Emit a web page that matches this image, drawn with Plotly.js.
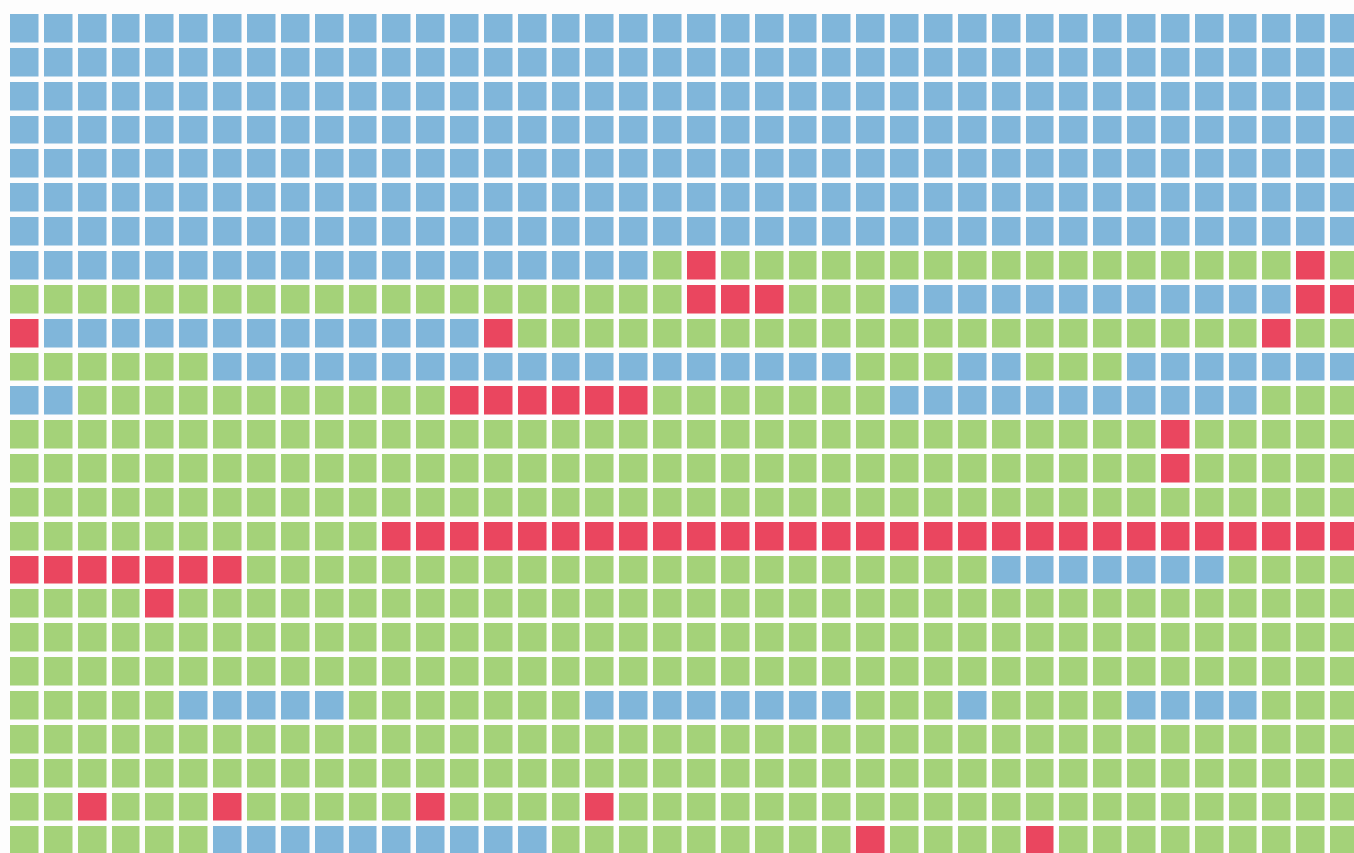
<!DOCTYPE html>
<html>
<head>
<meta charset="utf-8">
<script src="https://cdn.plot.ly/plotly-3.0.1.min.js"></script>
<style>
  html, body { margin: 0; padding: 0; background: #fbfbfb; overflow: hidden; }
  #chart { width: 1354px; height: 853px; }
</style>
</head>
<body>
<div id="chart"></div>
<script>
// Status categories and their colours
const statusCodes = ['B', 'G', 'R'];
const statusNames = ['blue', 'green', 'red'];
const statusColors = ['#80b6da', '#a4d279', '#ea465f'];

// Column / row indices
const columns = Array.from({length: 40}, (_, i) => i);
const rowIds = Array.from({length: 25}, (_, i) => i);

// Grid states, one string per row (spaces only for readability)
const gridRows = [
  "BBBBBBBBBB BBBBBBBBBB BBBBBBBBBB BBBBBBBBBB",
  "BBBBBBBBBB BBBBBBBBBB BBBBBBBBBB BBBBBBBBBB",
  "BBBBBBBBBB BBBBBBBBBB BBBBBBBBBB BBBBBBBBBB",
  "BBBBBBBBBB BBBBBBBBBB BBBBBBBBBB BBBBBBBBBB",
  "BBBBBBBBBB BBBBBBBBBB BBBBBBBBBB BBBBBBBBBB",
  "BBBBBBBBBB BBBBBBBBBB BBBBBBBBBB BBBBBBBBBB",
  "BBBBBBBBBB BBBBBBBBBB BBBBBBBBBB BBBBBBBBBB",
  "BBBBBBBBBB BBBBBBBBBG RGGGGGGGGG GGGGGGGGRG",
  "GGGGGGGGGG GGGGGGGGGG RRRGGGBBBB BBBBBBBBRR",
  "RBBBBBBBBB BBBBRGGGGG GGGGGGGGGG GGGGGGGRGG",
  "GGGGGGBBBB BBBBBBBBBB BBBBBGGGBB GGGBBBBBBB",
  "BBGGGGGGGG GGGRRRRRRG GGGGGGBBBB BBBBBBBGGG",
  "GGGGGGGGGG GGGGGGGGGG GGGGGGGGGG GGGGRGGGGG",
  "GGGGGGGGGG GGGGGGGGGG GGGGGGGGGG GGGGRGGGGG",
  "GGGGGGGGGG GGGGGGGGGG GGGGGGGGGG GGGGGGGGGG",
  "GGGGGGGGGG GRRRRRRRRR RRRRRRRRRR RRRRRRRRRR",
  "RRRRRRRGGG GGGGGGGGGG GGGGGGGGGB BBBBBBGGGG",
  "GGGGRGGGGG GGGGGGGGGG GGGGGGGGGG GGGGGGGGGG",
  "GGGGGGGGGG GGGGGGGGGG GGGGGGGGGG GGGGGGGGGG",
  "GGGGGGGGGG GGGGGGGGGG GGGGGGGGGG GGGGGGGGGG",
  "GGGGGBBBBB GGGGGGGBBB BBBBBGGGBG GGGBBBBGGG",
  "GGGGGGGGGG GGGGGGGGGG GGGGGGGGGG GGGGGGGGGG",
  "GGGGGGGGGG GGGGGGGGGG GGGGGGGGGG GGGGGGGGGG",
  "GGRGGGRGGG GGRGGGGRGG GGGGGGGGGG GGGGGGGGGG",
  "GGGGGGBBBB BBBBBBGGGG GGGGGRGGGG RGGGGGGGGG"
];

const z = gridRows.map(r => r.replace(/\s+/g, '').split('').map(ch => statusCodes.indexOf(ch)));
const text = gridRows.map(r => r.replace(/\s+/g, '').split('').map(ch => statusNames[statusCodes.indexOf(ch)]));

const colorscale = [
  [0, statusColors[0]], [1/3, statusColors[0]],
  [1/3, statusColors[1]], [2/3, statusColors[1]],
  [2/3, statusColors[2]], [1, statusColors[2]]
];

const pitch = 33.85;
const W = 1354, H = 853;
const gap = 5.5;
// first brick starts at (10, 14); plotly offsets bricks by floor(gap/2)
const x0 = -0.5 - (10 - Math.floor(gap / 2)) / pitch;
const y0 = -0.5 - (14 - Math.floor(gap / 2)) / pitch;

const trace = {
  type: 'heatmap',
  x: columns,
  y: rowIds,
  z: z,
  text: text,
  hoverinfo: 'text',
  zmin: -0.5,
  zmax: 2.5,
  colorscale: colorscale,
  showscale: false,
  xgap: gap,
  ygap: gap
};

const layout = {
  width: W,
  height: H,
  margin: {l: 0, r: 0, t: 0, b: 0, pad: 0},
  paper_bgcolor: '#fbfbfb',
  plot_bgcolor: '#fdfdfd',
  xaxis: {range: [x0, x0 + W / pitch], visible: false, showgrid: false, zeroline: false, fixedrange: true},
  yaxis: {range: [y0 + H / pitch, y0], visible: false, showgrid: false, zeroline: false, fixedrange: true},
  showlegend: false
};

Plotly.newPlot('chart', [trace], layout, {displayModeBar: false, staticPlot: true});
</script>
</body>
</html>
